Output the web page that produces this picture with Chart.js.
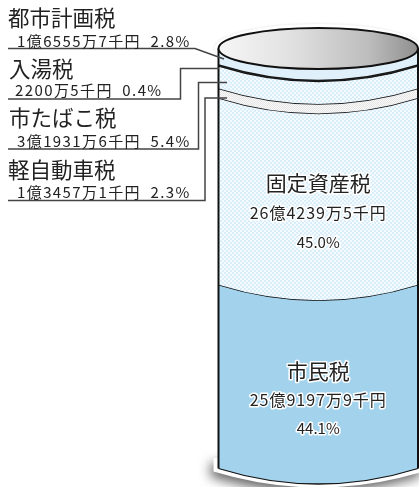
<!DOCTYPE html>
<html lang="ja">
<head>
<meta charset="utf-8">
<title>市税の内訳</title>
<style>
html, body { margin: 0; padding: 0; background: #fff; }
canvas { display: block; }
</style>
<script src="https://cdn.jsdelivr.net/npm/chart.js@4/dist/chart.umd.min.js"></script>
</head>
<body>
<canvas id="chart" width="419" height="487"></canvas>
<script>
// bottom of the cylinder first
const taxNames = ['市民税', '固定資産税', '軽自動車税', '市たばこ税', '入湯税', '都市計画税'];
const taxShares = [44.1, 45.0, 2.3, 5.4, 0.4, 2.8];
const taxAmounts = ['25億9197万9千円', '26億4239万5千円', '1億3457万1千円', '3億1931万6千円', '2200万5千円', '1億6555万7千円'];

const FONT = '"Noto Sans CJK JP", "Noto Sans", sans-serif';
const CURVE = 15.5;   // how far the band edges rise at the cylinder walls
const TOP_RY = 20.5;  // radius of the open top ellipse

function makePattern(a, b, size) {
    const c = document.createElement('canvas');
    c.width = c.height = size * 2;
    const x = c.getContext('2d');
    x.fillStyle = a; x.fillRect(0, 0, size * 2, size * 2);
    x.fillStyle = b; x.fillRect(0, 0, size, size); x.fillRect(size, size, size, size);
    return x.createPattern(c, 'repeat');
}
const bluePattern = makePattern('#f6fbff', '#d9eefb', 2);
const greyPattern = makePattern('#f8f8f8', '#e6e6e6', 1);

const bandFills = ['#a3d3ec', bluePattern, greyPattern, bluePattern, '#222222', '#dff0fb'];
const bandLines = [1.3, 1.3, 1.6, 1.6, 1.6, 1.6];

// path of a curved lower edge, left to right
function curveTo(ctx, l, r, y) {
    ctx.quadraticCurveTo((l + r) / 2, y + CURVE, r, y - CURVE);
}

const cylinderPlugin = {
    id: 'cylinder',
    beforeDatasetsDraw(chart) {
        const { ctx, chartArea: a } = chart;
        const cx = (a.left + a.right) / 2, topY = a.top - TOP_RY;
        // white rim with a soft drop shadow at the foot only
        ctx.save();
        ctx.shadowColor = 'rgba(0,0,0,0.6)';
        ctx.shadowBlur = 12;
        ctx.shadowOffsetX = -3;
        ctx.shadowOffsetY = 5;
        ctx.fillStyle = '#fff';
        ctx.beginPath();
        ctx.moveTo(a.left - 5, 458);
        ctx.lineTo(a.left - 5, a.bottom - CURVE + 3);
        ctx.quadraticCurveTo(cx, a.bottom + CURVE + 4, a.right + 5, a.bottom - CURVE + 3);
        ctx.lineTo(a.right + 5, 458);
        ctx.closePath();
        ctx.fill();
        ctx.restore();
        ctx.save();
        ctx.fillStyle = '#fff';
        ctx.shadowColor = 'rgba(0,0,0,0.12)';
        ctx.shadowBlur = 3;
        ctx.beginPath();
        ctx.ellipse(cx, topY, (a.right - a.left) / 2 + 4, TOP_RY + 4, 0, 0, Math.PI * 2);
        ctx.fill();
        ctx.restore();
    },
    beforeDatasetDraw(chart, args) {
        const { ctx } = chart;
        const el = chart.getDatasetMeta(args.index).data[0];
        const ds = chart.data.datasets[args.index];
        const l = el.x - el.width / 2, r = el.x + el.width / 2;
        ctx.save();
        ctx.beginPath();
        ctx.moveTo(l, el.y - CURVE);
        curveTo(ctx, l, r, el.y);
        ctx.lineTo(r, el.base - CURVE);
        ctx.quadraticCurveTo((l + r) / 2, el.base + CURVE, l, el.base - CURVE);
        ctx.closePath();
        ctx.fillStyle = ds.backgroundColor;
        ctx.fill();
        // lower edge of the band
        ctx.beginPath();
        ctx.moveTo(l, el.base - CURVE);
        curveTo(ctx, l, r, el.base);
        ctx.lineWidth = ds.borderWidth;
        ctx.strokeStyle = '#111';
        ctx.stroke();
        ctx.restore();
        return false; // band replaces the default rectangle
    },
    afterDatasetsDraw(chart) {
        const { ctx, chartArea: a } = chart;
        const cx = (a.left + a.right) / 2, topY = a.top - TOP_RY, rx = (a.right - a.left) / 2;
        ctx.save();
        // walls
        ctx.strokeStyle = '#111';
        ctx.lineWidth = 2;
        ctx.beginPath();
        ctx.moveTo(a.left, topY); ctx.lineTo(a.left, a.bottom - CURVE);
        ctx.moveTo(a.right, topY); ctx.lineTo(a.right, a.bottom - CURVE);
        ctx.stroke();
        // open top
        const grad = ctx.createLinearGradient(a.left, 0, a.right, 0);
        grad.addColorStop(0, '#f6f6f6');
        grad.addColorStop(0.35, '#e2e2e2');
        grad.addColorStop(0.75, '#bdbdbd');
        grad.addColorStop(1, '#8f8f8f');
        ctx.fillStyle = grad;
        ctx.beginPath();
        ctx.ellipse(cx, topY, rx, TOP_RY, 0, 0, Math.PI * 2);
        ctx.fill();
        ctx.stroke();
        // leader lines
        ctx.strokeStyle = '#444';
        ctx.lineWidth = 1.5;
        ctx.lineJoin = 'miter';
        const leaders = [
            [[8, 48.5], [195, 48.5], [224, 59]],
            [[8, 99], [180.5, 99], [180.5, 68.5], [219, 68.5]],
            [[8, 149], [198.5, 149], [198.5, 82.5], [227, 82.5]],
            [[8, 200.5], [205, 200.5], [205, 98], [227, 98]]
        ];
        leaders.forEach(pts => {
            ctx.beginPath();
            pts.forEach((p, i) => i ? ctx.lineTo(p[0], p[1]) : ctx.moveTo(p[0], p[1]));
            ctx.stroke();
        });
        // labels left of the cylinder: [series, name x, name y, sub x, sub y]
        ctx.textBaseline = 'middle';
        ctx.textAlign = 'left';
        ctx.fillStyle = '#222';
        const sideLabels = [
            [5, 8, 18, 17, 41],
            [4, 9, 69, 15, 90],
            [3, 9, 118, 17, 141],
            [2, 8, 170, 17, 192]
        ];
        sideLabels.forEach(([i, nx, ny, sx, sy]) => {
            ctx.letterSpacing = '0px';
            ctx.font = '400 21.5px ' + FONT;
            ctx.fillText(taxNames[i], nx, ny);
            ctx.letterSpacing = '1.4px';
            ctx.font = '400 15px ' + FONT;
            ctx.fillText(taxAmounts[i] + '  ' + taxShares[i].toFixed(1) + '%', sx, sy);
        });
        // labels inside the cylinder, with a white halo
        ctx.textAlign = 'center';
        ctx.lineJoin = 'round';
        ctx.strokeStyle = '#fff';
        ctx.lineWidth = 3;
        const innerLabels = [[1, 183, 213, 242], [0, 371, 400, 428]];
        innerLabels.forEach(([i, y1, y2, y3]) => {
            [[taxNames[i], y1, 21, 0], [taxAmounts[i], y2, 16, 1], [taxShares[i].toFixed(1) + '%', y3, 15, 0]].forEach(([t, y, size, sp]) => {
                ctx.letterSpacing = sp + 'px';
                ctx.font = '400 ' + size + 'px ' + FONT;
                ctx.strokeText(t, cx, y);
                ctx.fillText(t, cx, y);
            });
        });
        ctx.restore();
    }
};

new Chart(document.getElementById('chart'), {
    type: 'bar',
    data: {
        labels: ['市税'],
        datasets: taxNames.map((name, i) => ({
            label: name,
            data: [taxShares[i]],
            backgroundColor: bandFills[i],
            borderWidth: bandLines[i]
        }))
    },
    options: {
        responsive: false,
        animation: false,
        layout: { padding: { left: 218.5, right: 1, top: 69, bottom: 3 } },
        datasets: { bar: { barPercentage: 1, categoryPercentage: 1 } },
        scales: {
            x: { stacked: true, display: false },
            y: { stacked: true, display: false, min: 0, max: 100 }
        },
        plugins: { legend: { display: false }, tooltip: { enabled: false } }
    },
    plugins: [cylinderPlugin]
});
</script>
</body>
</html>
